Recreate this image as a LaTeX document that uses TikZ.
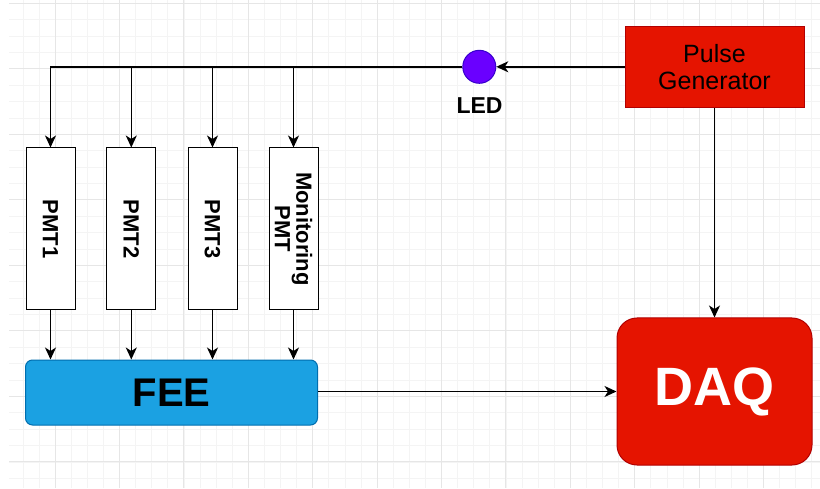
\documentclass[tikz,border=0pt]{standalone}
\usepackage{fontspec}
\setmainfont{Liberation Sans}
\usetikzlibrary{arrows.meta}
\definecolor{gridminor}{HTML}{F4F4F4}
\definecolor{gridmajor}{HTML}{E6E6E6}
\definecolor{dioRed}{HTML}{E51400}
\definecolor{dioRedLine}{HTML}{B20000}
\definecolor{dioBlue}{HTML}{1BA1E2}
\definecolor{dioBlueLine}{HTML}{006EAF}
\definecolor{dioViolet}{HTML}{6A00FF}
\definecolor{dioVioletLine}{HTML}{3700CC}
\tikzset{
  conn/.style={draw=black, line width=1.5pt, -{Stealth[length=12pt,width=11pt,inset=3.5pt]}},
  pmtbox/.style={draw=black, line width=1pt, fill=white, minimum width=49pt, minimum height=162pt, inner sep=0pt},
  pmttext/.style={font=\bfseries\fontsize{22}{21.5}\selectfont, rotate=-90, align=center, inner sep=0pt},
}
\begin{document}
\begin{tikzpicture}[x=1pt,y=-1pt]
\useasboundingbox (0,0) rectangle (820,489);
\fill[white] (0,0) rectangle (820,489);
% background grid
\begin{scope}
\clip (9,0) rectangle (820,487);
\foreach \i in {-4,...,48} {
  \draw[gridminor, line width=0.6pt] ({55+16.1*\i},0) -- ({55+16.1*\i},489);
}
\foreach \j in {-1,...,30} {
  \draw[gridminor, line width=0.6pt] (0,{3.3+16.375*\j}) -- (820,{3.3+16.375*\j});
}
\foreach \i in {-1,...,12} {
  \draw[gridmajor, line width=0.8pt] ({55+64.4*\i},0) -- ({55+64.4*\i},489);
}
\foreach \j in {0,...,7} {
  \draw[gridmajor, line width=0.8pt] (0,{3.3+65.5*\j}) -- (820,{3.3+65.5*\j});
}
\end{scope}

% nodes
\node[draw=dioRedLine, fill=dioRed, line width=1pt, minimum width=179pt, minimum height=81pt, inner sep=0pt,
      align=center, font=\fontsize{25}{27}\selectfont] (pg) at (714.5,67.3) {Pulse\\Generator};
\node[circle, draw=dioVioletLine, fill=dioViolet, line width=1pt, minimum size=33pt, inner sep=0pt] (led) at (479.3,66.8) {};
\node[font=\bfseries\fontsize{23}{23}\selectfont, inner sep=0pt] (ledlabel) at (479.5,106) {LED};

\node[pmtbox] (pmt1) at (50.5,229) {};
\node[pmtbox] (pmt2) at (131.3,229) {};
\node[pmtbox] (pmt3) at (212.5,229) {};
\node[pmtbox] (pmt4) at (293.5,229) {};
\node[pmttext] (t1) at (pmt1.center) {PMT1};
\node[pmttext] (t2) at (pmt2.center) {PMT2};
\node[pmttext] (t3) at (pmt3.center) {PMT3};
\node[pmttext] (t4) at (pmt4.center) {Monitoring\\PMT};

\node[draw=dioBlueLine, fill=dioBlue, line width=1pt, rounded corners=7pt, minimum width=292pt, minimum height=65pt,
      inner sep=0pt, font=\bfseries\fontsize{40}{40}\selectfont] (fee) at (171.5,392.5) {FEE};
\node[draw=dioRedLine, fill=dioRed, line width=1pt, rounded corners=20pt, minimum width=195pt, minimum height=147pt,
      inner sep=0pt, text=white, font=\bfseries\fontsize{54}{54}\selectfont] (daq) at (714.5,391.5) {DAQ};

% connectors
\draw[conn] (pg.west |- led.east) -- (led.east);
\foreach \p in {pmt1,pmt2,pmt3,pmt4} {
  \draw[conn] (led.west) -| (\p.north);
  \draw[conn] (\p.south) -- (\p.south |- fee.north);
}
\draw[conn] (fee.east |- daq.west) -- (daq.west);
\draw[conn] (pg.south) -- (pg.south |- daq.north);
\end{tikzpicture}
\end{document}
